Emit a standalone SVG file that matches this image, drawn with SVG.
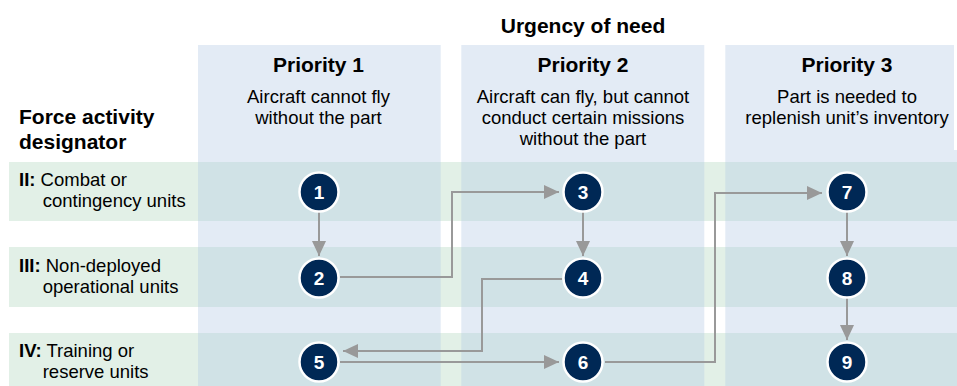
<svg xmlns="http://www.w3.org/2000/svg" width="957" height="386" viewBox="0 0 957 386">
<defs>
<style>
text{font-family:"Liberation Sans",Arial,sans-serif;fill:#000}
.h{font-size:21px;font-weight:bold}
.s{font-size:18.5px}
.b{font-weight:bold}
.col{fill:#E3EBF5}
.band{fill:#E2F0E7}
.ov{fill:#D0E2E6}
.node circle{fill:#002855;stroke:#fff;stroke-width:2.5}
.node text{fill:#fff;font-size:19px;font-weight:bold;text-anchor:middle}
.conn path{fill:none;stroke:#999;stroke-width:2;marker-end:url(#arr)}
</style>
<marker id="arr" viewBox="0 0 15 14" refX="15" refY="7" markerWidth="15" markerHeight="14" markerUnits="userSpaceOnUse" orient="auto">
<path d="M0,0 L15,7 L0,14 z" fill="#999"/>
</marker>
</defs>
<rect width="957" height="386" fill="#fff"/>
<g id="background">
<rect class="col" x="198" y="45" width="242.7" height="341"/>
<rect class="col" x="461.3" y="45" width="243" height="341"/>
<rect class="col" x="725.3" y="45" width="228.7" height="341"/>
<rect class="col" x="953" y="150" width="4" height="236"/>
<rect class="band" x="9" y="162" width="948" height="59"/>
<rect class="band" x="9" y="247" width="948" height="60"/>
<rect class="band" x="9" y="333" width="948" height="60"/>
<rect class="ov" x="198" y="162" width="242.7" height="59"/>
<rect class="ov" x="461.3" y="162" width="243" height="59"/>
<rect class="ov" x="725.3" y="162" width="231.7" height="59"/>
<rect class="ov" x="198" y="247" width="242.7" height="60"/>
<rect class="ov" x="461.3" y="247" width="243" height="60"/>
<rect class="ov" x="725.3" y="247" width="231.7" height="60"/>
<rect class="ov" x="198" y="333" width="242.7" height="60"/>
<rect class="ov" x="461.3" y="333" width="243" height="60"/>
<rect class="ov" x="725.3" y="333" width="231.7" height="60"/>
</g>
<g id="headers">
<text class="h" x="583" y="33" text-anchor="middle">Urgency of need</text>
<text class="h" x="318.5" y="72" text-anchor="middle">Priority 1</text>
<text class="s" x="318.5" y="103" text-anchor="middle">Aircraft cannot fly</text>
<text class="s" x="318.5" y="124" text-anchor="middle">without the part</text>
<text class="h" x="583" y="72" text-anchor="middle">Priority 2</text>
<text class="s" x="583" y="103" text-anchor="middle">Aircraft can fly, but cannot</text>
<text class="s" x="583" y="124" text-anchor="middle">conduct certain missions</text>
<text class="s" x="583" y="145" text-anchor="middle">without the part</text>
<text class="h" x="847" y="72" text-anchor="middle">Priority 3</text>
<text class="s" x="847" y="103" text-anchor="middle">Part is needed to</text>
<text class="s" x="847" y="124" text-anchor="middle">replenish unit’s inventory</text>
<text class="h" x="19" y="124">Force activity</text>
<text class="h" x="19" y="149">designator</text>
</g>
<g id="row-labels">
<text class="s" x="19" y="186"><tspan class="b">II:</tspan> Combat or</text>
<text class="s" x="42.7" y="207">contingency units</text>
<text class="s" x="19" y="271.5"><tspan class="b">III:</tspan> Non-deployed</text>
<text class="s" x="42.7" y="292.5">operational units</text>
<text class="s" x="19" y="356.5"><tspan class="b">IV:</tspan> Training or</text>
<text class="s" x="42.7" y="377.5">reserve units</text>
</g>
<g id="connectors" class="conn">
<path d="M319,212 V256"/>
<path d="M340,277 H452 V192 H559"/>
<path d="M583,212 V256"/>
<path d="M562,279 H482 V351 H343"/>
<path d="M340,362 H559"/>
<path d="M605,362 H715 V193 H822"/>
<path d="M847,212 V256"/>
<path d="M847,298 V340"/>
</g>
<g id="node1" class="node"><circle cx="319" cy="192" r="19.5"/><text x="319" y="198.5">1</text></g>
<g id="node2" class="node"><circle cx="319" cy="278" r="19.5"/><text x="319" y="284.5">2</text></g>
<g id="node3" class="node"><circle cx="583" cy="192" r="19.5"/><text x="583" y="198.5">3</text></g>
<g id="node4" class="node"><circle cx="583" cy="278" r="19.5"/><text x="583" y="284.5">4</text></g>
<g id="node5" class="node"><circle cx="319" cy="362" r="19.5"/><text x="319" y="368.5">5</text></g>
<g id="node6" class="node"><circle cx="583" cy="362" r="19.5"/><text x="583" y="368.5">6</text></g>
<g id="node7" class="node"><circle cx="847" cy="192" r="19.5"/><text x="847" y="198.5">7</text></g>
<g id="node8" class="node"><circle cx="847" cy="278" r="19.5"/><text x="847" y="284.5">8</text></g>
<g id="node9" class="node"><circle cx="847" cy="362" r="19.5"/><text x="847" y="368.5">9</text></g>
</svg>
